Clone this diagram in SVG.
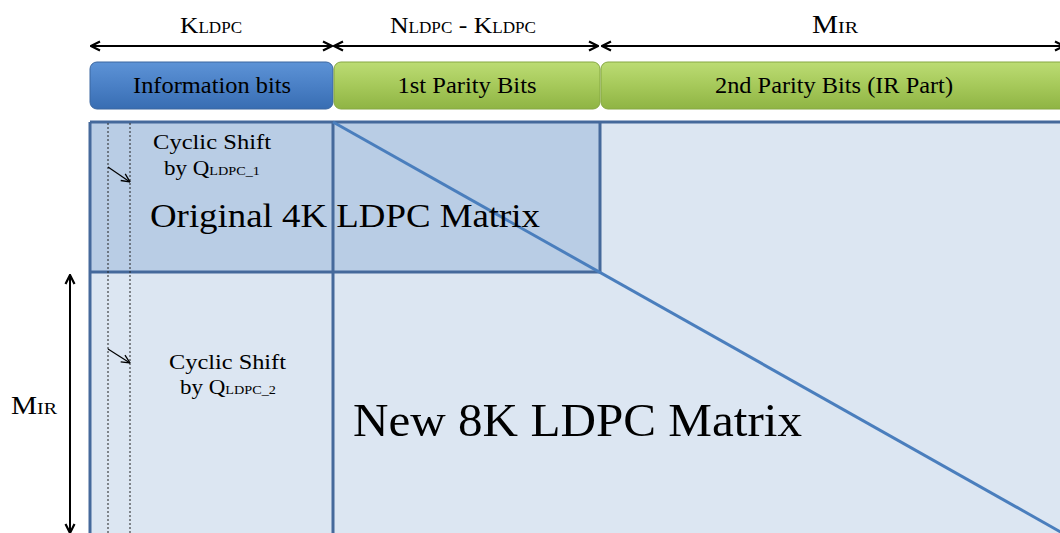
<svg xmlns="http://www.w3.org/2000/svg" width="1060" height="533" viewBox="0 0 1060 533">
<defs>
<linearGradient id="gb" x1="0" y1="0" x2="0" y2="1"><stop offset="0" stop-color="#5d93d6"/><stop offset="0.5" stop-color="#4a80c6"/><stop offset="1" stop-color="#386db2"/></linearGradient>
<linearGradient id="gg" x1="0" y1="0" x2="0" y2="1"><stop offset="0" stop-color="#bcdc74"/><stop offset="0.5" stop-color="#a6c95a"/><stop offset="1" stop-color="#8fb444"/></linearGradient>
<marker id="ah" viewBox="0 0 12 12" refX="11" refY="6" markerWidth="12" markerHeight="12" markerUnits="userSpaceOnUse" orient="auto-start-reverse"><path d="M2,1.5 L11,6 L2,10.5" fill="none" stroke="#000" stroke-width="2.2"/></marker>
<marker id="sh" viewBox="0 0 10 10" refX="9.5" refY="5" markerWidth="10" markerHeight="10" markerUnits="userSpaceOnUse" orient="auto"><path d="M1,1 L9.5,5 L1,9" fill="none" stroke="#000" stroke-width="1.3"/></marker>
<style>
.t{font-family:"Liberation Serif","Times New Roman",serif;fill:#000}
.dim{stroke:#000;stroke-width:2;fill:none}
.bd{stroke:#45699b;stroke-width:3;fill:none}
.dot{stroke:#222;stroke-width:1;stroke-dasharray:2 2;fill:none}
</style>
</defs>
<rect width="1060" height="533" fill="#fff"/>
<g id="matrix">
<rect x="90" y="122" width="980" height="420" fill="#dce6f2"/>
<rect x="90" y="122" width="510" height="150" fill="#b9cde5"/>
<line class="bd" x1="90" y1="122" x2="1060" y2="122"/>
<line class="bd" x1="90" y1="122" x2="90" y2="533"/>
<line class="bd" x1="333" y1="122" x2="333" y2="533"/>
<line class="bd" x1="600" y1="122" x2="600" y2="272"/>
<line class="bd" x1="90" y1="272" x2="600" y2="272"/>
<line x1="333" y1="122" x2="1066" y2="535" stroke="#4a7ebd" stroke-width="3"/>
<line class="dot" x1="108" y1="123" x2="108" y2="533"/>
<line class="dot" x1="130" y1="123" x2="130" y2="533"/>
</g>
<g id="bars">
<g id="info"><rect x="90" y="62" width="243" height="47" rx="7" fill="url(#gb)" stroke="#3a66a0" stroke-width="1"/>
<text class="t" x="212" y="93" font-size="23" text-anchor="middle" textLength="158" lengthAdjust="spacingAndGlyphs">Information bits</text></g>
<g id="par1"><rect x="334" y="62" width="266" height="47" rx="7" fill="url(#gg)" stroke="#86a843" stroke-width="1"/>
<text class="t" x="467" y="93" font-size="23" text-anchor="middle" textLength="139" lengthAdjust="spacingAndGlyphs">1st Parity Bits</text></g>
<g id="par2"><rect x="601" y="62" width="480" height="47" rx="7" fill="url(#gg)" stroke="#86a843" stroke-width="1"/>
<text class="t" x="834" y="93" font-size="23" text-anchor="middle" textLength="238" lengthAdjust="spacingAndGlyphs">2nd Parity Bits (IR Part)</text></g>
</g>
<g id="connectors">
<line class="dim" x1="91" y1="46" x2="332" y2="46" marker-start="url(#ah)" marker-end="url(#ah)"/>
<line class="dim" x1="334" y1="46" x2="598" y2="46" marker-start="url(#ah)" marker-end="url(#ah)"/>
<line class="dim" x1="602" y1="46" x2="1064" y2="46" marker-start="url(#ah)" marker-end="url(#ah)"/>
<line class="dim" x1="70" y1="275" x2="70" y2="533" stroke-width="2.4" marker-start="url(#ah)" marker-end="url(#ah)"/>
<line x1="108" y1="167" x2="130" y2="182" stroke="#000" stroke-width="1.2" marker-end="url(#sh)"/>
<line x1="108" y1="349" x2="130" y2="363" stroke="#000" stroke-width="1.2" marker-end="url(#sh)"/>
</g>
<g id="labels">
<text class="t" x="180" y="33" font-size="24" textLength="62" lengthAdjust="spacingAndGlyphs">K<tspan font-size="16">LDPC</tspan></text>
<text class="t" x="390" y="33" font-size="24" textLength="146" lengthAdjust="spacingAndGlyphs">N<tspan font-size="16">LDPC</tspan> - K<tspan font-size="16">LDPC</tspan></text>
<text class="t" x="812" y="33" font-size="25" textLength="46" lengthAdjust="spacingAndGlyphs">M<tspan font-size="17">IR</tspan></text>
<text class="t" x="11" y="414" font-size="25" textLength="46" lengthAdjust="spacingAndGlyphs">M<tspan font-size="17">IR</tspan></text>
<text class="t" x="153" y="149" font-size="21" textLength="118" lengthAdjust="spacingAndGlyphs">Cyclic Shift</text>
<text class="t" x="164" y="175" font-size="21" textLength="96" lengthAdjust="spacingAndGlyphs">by Q<tspan font-size="13">LDPC_1</tspan></text>
<text class="t" x="169" y="369" font-size="21" textLength="117" lengthAdjust="spacingAndGlyphs">Cyclic Shift</text>
<text class="t" x="180" y="394" font-size="21" textLength="96" lengthAdjust="spacingAndGlyphs">by Q<tspan font-size="13">LDPC_2</tspan></text>
<text class="t" x="150" y="227" font-size="33" textLength="390" lengthAdjust="spacingAndGlyphs">Original 4K LDPC Matrix</text>
<text class="t" x="353" y="436" font-size="47" textLength="449" lengthAdjust="spacingAndGlyphs">New 8K LDPC Matrix</text>
</g>
</svg>
